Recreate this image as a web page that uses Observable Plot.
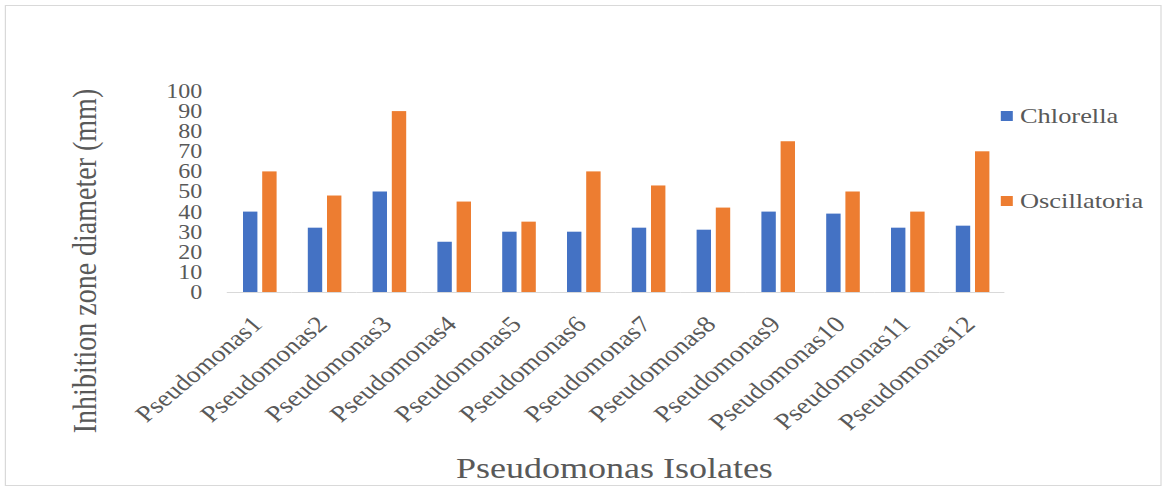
<!DOCTYPE html>
<html>
<head>
<meta charset="utf-8">
<script src="https://cdn.jsdelivr.net/npm/d3@7"></script>
<script src="https://cdn.jsdelivr.net/npm/@observablehq/plot@0.6"></script>
<style>
  html, body { margin: 0; padding: 0; background: #fff; overflow: hidden; }
  /* the chart is laid out on a 976px-wide canvas and widened to 1171px */
  #chart {
    position: relative; width: 976px; height: 490px;
    transform: scaleX(1.2); transform-origin: 0 0;
    font-family: "Liberation Serif", "Times New Roman", serif; color: #595959;
  }
  #chart svg { position: absolute; left: 0; top: 0; }
  .frame { position: absolute; left: 4px; top: 5px; width: 964px; height: 481px;
           border: 1px solid #d9d9d9; box-sizing: border-box; }
  .ytitle { position: absolute; left: 71px; top: 261px; font-size: 28px; white-space: nowrap;
            transform: translate(-50%, -50%) rotate(-90deg); line-height: 1; }
  .xtitle { position: absolute; left: 512px; top: 453px; font-size: 30px; white-space: nowrap;
            transform: translateX(-50%); line-height: 1; }
  .legend { position: absolute; left: 834px; top: 0; }
  .item { position: absolute; left: 0; display: flex; align-items: center; white-space: nowrap;
          font-size: 22px; line-height: 1; transform: translateY(-50%); }
  .swatch { width: 10px; height: 10px; margin-right: 6px; flex: none; }
</style>
</head>
<body>
<div id="chart"></div>
<script>
// Inhibition zone diameters (mm) for each Pseudomonas isolate
const isolates = ["Pseudomonas1", "Pseudomonas2", "Pseudomonas3", "Pseudomonas4",
                  "Pseudomonas5", "Pseudomonas6", "Pseudomonas7", "Pseudomonas8",
                  "Pseudomonas9", "Pseudomonas10", "Pseudomonas11", "Pseudomonas12"];
const chlorella    = [40, 32, 50, 25, 30, 30, 32, 31, 40, 39, 32, 33];
const oscillatoria = [60, 48, 90, 45, 35, 60, 53, 42, 75, 50, 40, 70];
const seriesNames  = ["Chlorella", "Oscillatoria"];
const seriesColors = ["#4472C4", "#ED7D31"];
const yTicks = [0, 10, 20, 30, 40, 50, 60, 70, 80, 90, 100];
const xTitle = "Pseudomonas Isolates";
const yTitle = "Inhibition zone diameter (mm)";

const rows = isolates.flatMap((iso, i) => [
  {isolate: iso, series: seriesNames[0], value: chlorella[i]},
  {isolate: iso, series: seriesNames[1], value: oscillatoria[i]}
]);

const chart = document.getElementById("chart");

const frame = document.createElement("div");
frame.className = "frame";
chart.appendChild(frame);

const plot = Plot.plot({
  width: 976,
  height: 490,
  marginLeft: 187.5,
  marginRight: 136.8,
  marginTop: 91,
  marginBottom: 198,
  style: {fontFamily: "'Liberation Serif', 'Times New Roman', serif", fontSize: "20px",
          color: "#595959", background: "transparent", overflow: "visible"},
  fx: {domain: isolates, padding: 0, label: null},
  x: {domain: seriesNames, paddingInner: 0.28, paddingOuter: 0.805, axis: null},
  y: {domain: [0, 100], label: null},
  color: {domain: seriesNames, range: seriesColors},
  marks: [
    Plot.axisY({ticks: yTicks, tickSize: 0, tickPadding: 21, label: null}),
    Plot.axisFx({anchor: "bottom", tickRotate: -45, tickSize: 0, tickPadding: 28,
                 fontSize: 23, dx: -2, label: null}),
    Plot.barY(rows, {fx: "isolate", x: "series", y: "value", fill: "series"}),
    Plot.ruleY([0], {stroke: "#d9d9d9", strokeWidth: 1.2})
  ]
});
chart.appendChild(plot);

const yt = document.createElement("div");
yt.className = "ytitle";
yt.textContent = yTitle;
chart.appendChild(yt);

const xt = document.createElement("div");
xt.className = "xtitle";
xt.textContent = xTitle;
chart.appendChild(xt);

// legend to the right of the bars
const legend = document.createElement("div");
legend.className = "legend";
const legendY = [116, 201];
seriesNames.forEach((name, i) => {
  const item = document.createElement("div");
  item.className = "item";
  item.style.top = legendY[i] + "px";
  const sw = document.createElement("span");
  sw.className = "swatch";
  sw.style.background = seriesColors[i];
  const label = document.createElement("span");
  label.textContent = name;
  item.appendChild(sw);
  item.appendChild(label);
  legend.appendChild(item);
});
chart.appendChild(legend);
</script>
</body>
</html>
